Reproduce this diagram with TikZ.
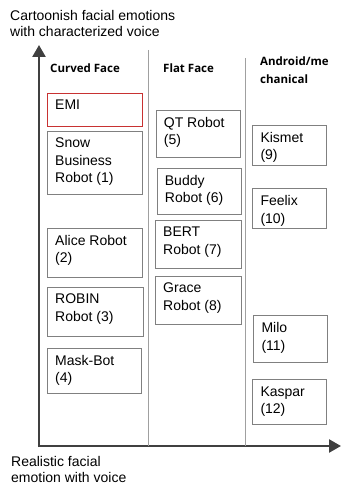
\documentclass[tikz,border=0pt]{standalone}
\usepackage{fontspec}
\setmainfont{Liberation Sans}
\newfontfamily\hdfont{Open Sans}
\usetikzlibrary{arrows.meta}
\definecolor{axisgray}{RGB}{64,64,64}
\definecolor{boxgray}{RGB}{128,128,128}
\definecolor{sepgray}{RGB}{160,160,160}
\definecolor{emired}{RGB}{200,50,50}
\newcommand\rbox[7][boxgray]{%
  \node[box,draw=#1,anchor=north west,minimum width=#5,minimum height=#6] (#2) at (#3,#4) {};
  \node[lbl,anchor=north west] (#2t) at ([xshift=8pt,yshift=-7pt]#2.north west) {#7};}
\begin{document}
\begin{tikzpicture}[x=1pt,y=-1pt,
  box/.style={line width=0.9pt,inner sep=0pt,rectangle},
  lbl/.style={inner sep=0pt,align=left,font=\fontsize{14}{17.5}\selectfont},
  hdr/.style={inner sep=0pt,align=left,anchor=base west,font=\hdfont\bfseries\fontsize{11.5}{18}\selectfont},
  ax/.style={draw=axisgray,line width=2.4pt,-{Triangle[length=12pt,width=13pt]}},
  sep/.style={draw=sepgray,line width=0.8pt},
  axcaption/.style={inner sep=0pt,align=left,anchor=base west,font=\fontsize{14}{16}\selectfont}]
\useasboundingbox (0,0) rectangle (341,486);
% axes
\coordinate (origin) at (39,446);
\coordinate (ytip) at (39,45);
\coordinate (xtip) at (341,446);
\draw[ax] ([xshift=-1.2pt]origin) -- (xtip);
\draw[ax] ([yshift=-1.2pt]origin) -- (ytip);
% separators
\coordinate (s1t) at (148.3,50);
\coordinate (s1b) at (148.3,446);
\coordinate (s2t) at (245.7,58);
\coordinate (s2b) at (245.7,446);
\draw[sep] (s1t) -- (s1b);
\draw[sep] (s2t) -- (s2b);
% captions (anchor = baseline of last line)
\node[axcaption] (ycap) at (10,36.5) {Cartoonish facial emotions\\with characterized voice};
\node[axcaption] (xcap) at (11,482) {Realistic facial\\emotion with voice};
% headers
\node[hdr] (h1) at (50,72.5) {Curved Face};
\node[hdr] (h2) at (163,72.5) {Flat Face};
\node[hdr] (h3) at (260,84) {Android/me\\chanical};
% curved face column
\rbox[emired]{emi}{47}{93}{95}{33}{EMI}
\rbox{r1}{47}{131}{95}{63}{Snow\\Business\\Robot (1)}
\rbox{r2}{47}{228}{95}{49}{Alice Robot\\(2)}
\rbox{r3}{47}{287}{95.5}{49}{ROBIN\\Robot (3)}
\rbox{r4}{47}{348}{94}{45}{Mask-Bot\\(4)}
% flat face column
\rbox{r5}{155.7}{110}{84.6}{47}{QT Robot\\(5)}
\rbox{r6}{156.7}{168}{84}{46}{Buddy\\Robot (6)}
\rbox{r7}{155}{220}{85.7}{47.7}{BERT\\Robot (7)}
\rbox{r8}{155}{276}{85.7}{48}{Grace\\Robot (8)}
% android column
\rbox{r9}{252.3}{125}{73.4}{40.3}{Kismet\\(9)}
\rbox{r10}{252.3}{188.3}{73.4}{40}{Feelix\\(10)}
\rbox{r11}{253.3}{315.3}{73.4}{47}{Milo\\(11)}
\rbox{r12}{252.3}{379.3}{73.7}{45}{Kaspar\\(12)}
\end{tikzpicture}
\end{document}
